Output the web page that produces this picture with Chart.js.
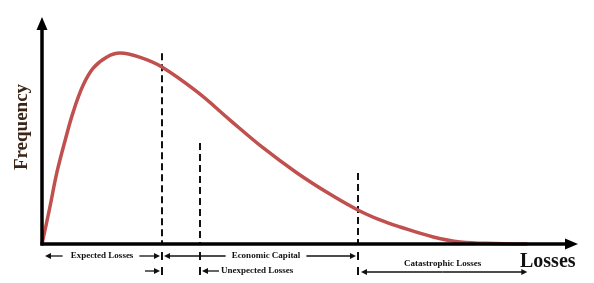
<!DOCTYPE html>
<html><head><meta charset="utf-8">
<script src="https://cdn.jsdelivr.net/npm/chart.js@4/dist/chart.umd.min.js"></script>
<style>html,body{margin:0;padding:0;background:#fff}#wrap{width:594px;height:283px}</style>
</head><body><div id="wrap"><canvas id="c" width="594" height="283"></canvas></div>
<script>
// Losses (x) and frequency (y)
const lossX     = [0, 1.5, 2.8, 4.4, 5.9, 7.8, 9.7, 12.3, 14.8, 18.6, 22.7, 29.4, 35.6, 41.9, 48.3, 54.5, 59.8, 64.0, 67.8, 74.1, 79.2, 85.8, 91.9];
const frequency = [0, 16.3, 31.3, 45.8, 58.1, 70.0, 77.5, 82.4, 84.1, 82.2, 78.0, 67.0, 54.6, 42.3, 31.3, 22.0, 15.0, 10.6, 7.5, 3.1, 0.9, 0.2, 0];
// vertical dashed markers (loss value and top height)
const markerLosses = [22.7, 29.9, 59.8];
const markerTops   = [84, 44.5, 31.3];
const tailEnd = 91.9;
const axisTitles = ['Losses', 'Frequency'];
const segmentLabels = ['Expected Losses', 'Economic Capital', 'Unexpected Losses', 'Catastrophic Losses'];

function arrowHead(ctx, x, y, dir) {
  ctx.beginPath();
  ctx.moveTo(x, y);
  ctx.lineTo(x - dir * 6, y - 3);
  ctx.lineTo(x - dir * 6, y + 3);
  ctx.closePath();
  ctx.fill();
}
function hArrow(ctx, from, to, y) {
  const dir = to > from ? 1 : -1;
  ctx.beginPath(); ctx.moveTo(from, y); ctx.lineTo(to - dir * 5, y); ctx.stroke();
  arrowHead(ctx, to, y, dir);
}
function bar(ctx, x, y) {
  ctx.save(); ctx.lineWidth = 2;
  ctx.beginPath(); ctx.moveTo(x, y - 4); ctx.lineTo(x, y + 4); ctx.stroke();
  ctx.restore();
}

const decor = {
  id: 'decor',
  beforeDatasetsDraw(chart) {
    const ctx = chart.ctx, xs = chart.scales.x, ys = chart.scales.y;
    ctx.save();
    ctx.strokeStyle = '#111'; ctx.lineWidth = 2; ctx.setLineDash([7, 4]);
    markerLosses.forEach((m, i) => {
      const px = Math.round(xs.getPixelForValue(m));
      ctx.beginPath(); ctx.moveTo(px, ys.getPixelForValue(markerTops[i])); ctx.lineTo(px, ys.getPixelForValue(0)); ctx.stroke();
    });
    ctx.restore();
  },
  afterDatasetsDraw(chart) {
    const ctx = chart.ctx, xs = chart.scales.x, ys = chart.scales.y;
    const x0 = xs.getPixelForValue(0), y0 = ys.getPixelForValue(0);
    const xr = xs.getPixelForValue(xs.max), yt = ys.getPixelForValue(ys.max);
    ctx.save();
    ctx.strokeStyle = '#000'; ctx.fillStyle = '#000'; ctx.lineWidth = 3.5;
    // y axis
    ctx.beginPath(); ctx.moveTo(x0, y0 + 1.5); ctx.lineTo(x0, yt + 10); ctx.stroke();
    ctx.beginPath(); ctx.moveTo(x0, yt); ctx.lineTo(x0 - 5.5, yt + 13); ctx.lineTo(x0 + 5.5, yt + 13); ctx.closePath(); ctx.fill();
    // x axis
    ctx.beginPath(); ctx.moveTo(x0 - 1.5, y0); ctx.lineTo(xr - 10, y0); ctx.stroke();
    ctx.beginPath(); ctx.moveTo(xr, y0); ctx.lineTo(xr - 13, y0 - 5.5); ctx.lineTo(xr - 13, y0 + 5.5); ctx.closePath(); ctx.fill();

    // axis titles
    ctx.fillStyle = '#111';
    ctx.font = 'bold 20px "Liberation Serif"';
    ctx.textAlign = 'left'; ctx.textBaseline = 'alphabetic';
    ctx.fillText(axisTitles[0], 520, 267);
    ctx.save();
    ctx.translate(22, 127); ctx.rotate(-Math.PI / 2);
    ctx.fillStyle = '#3a2516';
    ctx.font = 'bold 19px "Liberation Serif"';
    ctx.textAlign = 'center'; ctx.textBaseline = 'middle';
    ctx.fillText(axisTitles[1], 0, 0);
    ctx.restore();

    // segment annotations
    const b1 = Math.round(xs.getPixelForValue(markerLosses[0]));
    const b2 = Math.round(xs.getPixelForValue(markerLosses[1]));
    const b3 = Math.round(xs.getPixelForValue(markerLosses[2]));
    const bt = xs.getPixelForValue(tailEnd);
    const r1 = y0 + 12, r2 = y0 + 27;
    ctx.lineWidth = 1.3; ctx.strokeStyle = '#111'; ctx.fillStyle = '#111';
    ctx.font = 'bold 9px "Liberation Serif"';
    ctx.textBaseline = 'middle'; ctx.textAlign = 'center';
    // Expected Losses
    let c = (x0 + b1) / 2, w = ctx.measureText(segmentLabels[0]).width;
    ctx.fillText(segmentLabels[0], c, r1);
    hArrow(ctx, c - w / 2 - 8, x0 + 3, r1);
    hArrow(ctx, c + w / 2 + 6, b1 - 2, r1);
    bar(ctx, b1, r1);
    // Economic Capital
    c = (b1 + b3) / 2 + 6; w = ctx.measureText(segmentLabels[1]).width;
    ctx.fillText(segmentLabels[1], c, r1);
    hArrow(ctx, c - w / 2 - 6, b1 + 2, r1);
    hArrow(ctx, c + w / 2 + 6, b3 - 2, r1);
    bar(ctx, b2, r1); bar(ctx, b3, r1);
    // Unexpected Losses
    hArrow(ctx, b1 - 17, b1 - 2, r2); bar(ctx, b1, r2);
    bar(ctx, b2, r2);
    hArrow(ctx, b2 + 19, b2 + 2, r2);
    ctx.textAlign = 'left';
    ctx.fillText(segmentLabels[2], b2 + 21, r2);
    // Catastrophic Losses
    bar(ctx, b3, r2);
    hArrow(ctx, (b3 + bt) / 2, b3 + 3, r2 + 1);
    hArrow(ctx, (b3 + bt) / 2, bt, r2 + 1);
    ctx.textAlign = 'center';
    ctx.fillText(segmentLabels[3], (b3 + bt) / 2, r2 - 7);
    ctx.restore();
  }
};

new Chart(document.getElementById('c'), {
  type: 'line',
  data: {
    datasets: [{
      data: lossX.map((x, i) => ({ x: x, y: frequency[i] })),
      borderColor: '#c0504d',
      borderWidth: 3.5,
      pointRadius: 0,
      fill: false,
      tension: 0.4,
      clip: 6
    }]
  },
  options: {
    responsive: false,
    animation: false,
    layout: { padding: { left: 42, right: 16, top: 17, bottom: 39 } },
    scales: {
      x: { type: 'linear', min: 0, max: 101.5, display: false },
      y: { min: 0, max: 100, display: false }
    },
    plugins: { legend: { display: false }, tooltip: { enabled: false } }
  },
  plugins: [decor]
});
</script>
</body></html>
